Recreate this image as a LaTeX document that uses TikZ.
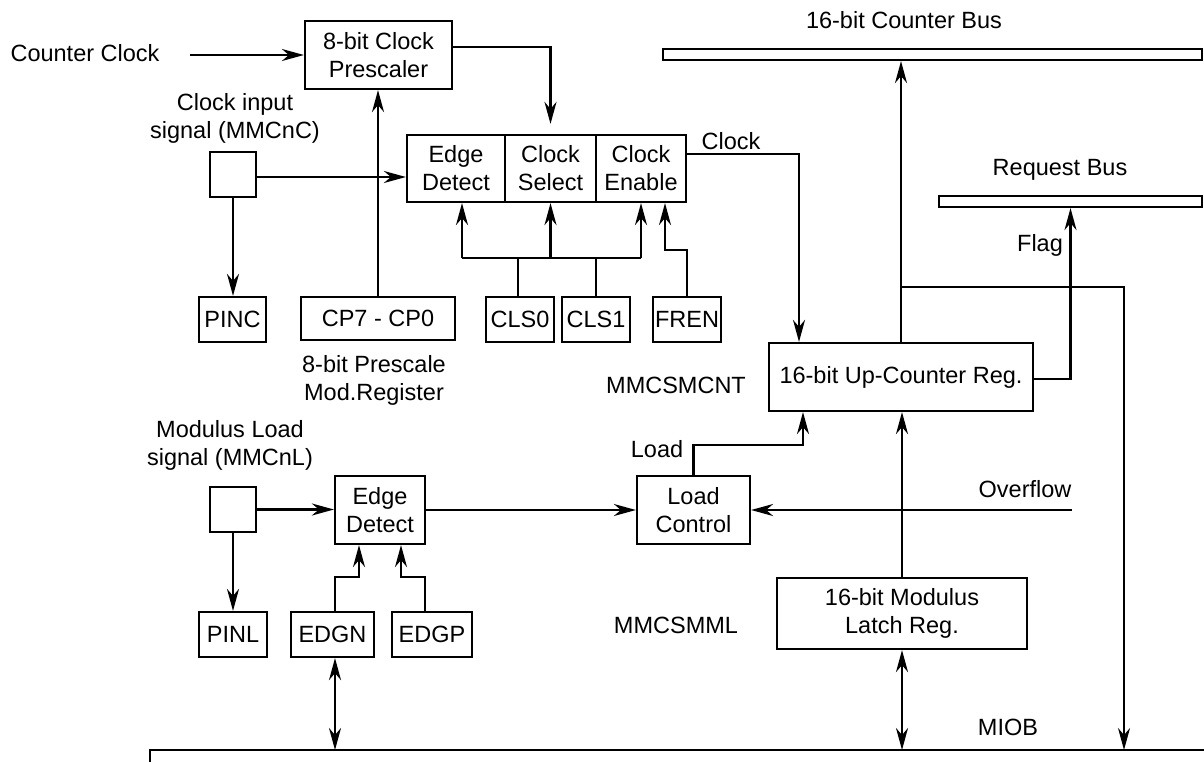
\documentclass[tikz,border=0pt]{standalone}
\usepackage{fontspec}
\setmainfont{Liberation Sans}
\usetikzlibrary{arrows.meta}
\tikzset{
  every node/.style={font=\fontsize{23.5}{28}\selectfont, inner sep=0pt, align=center},
  blk/.style={draw, line width=2.2pt, anchor=center},
  wire/.style={line width=2.2pt},
  arr/.style={wire, -{Stealth[length=22pt,width=12pt,inset=7pt]}},
  darr/.style={wire, {Stealth[length=22pt,width=12pt,inset=7pt]}-{Stealth[length=22pt,width=12pt,inset=7pt]}},
  lbl/.style={anchor=center}
}
\begin{document}
\begin{tikzpicture}[x=1pt,y=-1pt]
\useasboundingbox (0,0) rectangle (1204,761);
% top-left
\node[lbl] (cclab) at (85,53) {Counter Clock};
\coordinate (ccs) at (190,55);
\node[blk, minimum width=147pt, minimum height=68pt] (pre) at (378.5,55) {8-bit Clock\\Prescaler};
\draw[arr] (ccs) -- (ccs -| pre.west);
\node[lbl] (cilab) at (235,118) {Clock input\\signal (MMCnC)};
\node[blk, minimum width=46pt, minimum height=45pt] (sb1) at (233,174.5) {};
\node[blk, minimum width=98pt, minimum height=67pt] (ed) at (456,168.5) {Edge\\Detect};
\node[blk, minimum width=91pt, minimum height=67pt] (cs) at (550.5,168.5) {Clock\\Select};
\node[blk, minimum width=90pt, minimum height=67pt] (ce) at (641,168.5) {Clock\\Enable};
\draw[arr, shorten >=10pt] ([yshift=8pt]pre.east) -| (cs.north);
\draw[arr] ([yshift=-2.5pt]sb1.east) -- ([yshift=-2.5pt]sb1.east -| ed.west);
\node[blk, minimum width=67pt, minimum height=45pt] (pinc) at (232.5,319.5) {PINC};
\draw[arr] (sb1.south) -- (sb1.south |- pinc.north);
\node[blk, minimum width=154pt, minimum height=43pt] (cp) at (378,318.5) {CP7 - CP0};
\draw[arr] (cp.north) -- (cp.north |- pre.south);
\node[lbl] (pslab) at (374,380) {8-bit Prescale\\Mod.Register};
\node[blk, minimum width=68pt, minimum height=45pt] (cls0) at (520,319.5) {CLS0};
\node[blk, minimum width=68pt, minimum height=45pt] (cls1) at (596,319.5) {CLS1};
\node[blk, minimum width=68pt, minimum height=45pt] (fren) at (687,319.5) {FREN};
\coordinate (bl) at (462,258);
\coordinate (brr) at (641,258);
\draw[wire] (bl) -- (brr);
\draw[wire] ([xshift=-2pt]cls0.north) -- ([xshift=-2pt]cls0.north |- bl);
\draw[wire] (cls1.north) -- (cls1.north |- bl);
\draw[arr] (bl) -- (bl |- ed.south);
\draw[arr] (cs.south |- bl) -- (cs.south);
\draw[arr] (brr) -- (brr |- ce.south);
\coordinate (fk) at (665,250);
\draw[arr] (fren.north) |- (fk) -- (fk |- ce.south);
% right top
\node[lbl] (cblab) at (904,20) {16-bit Counter Bus};
\node[blk, minimum width=539pt, minimum height=11pt] (cbus) at (932.5,54.5) {};
\node[lbl] (rblab) at (1060,170) {Request Bus};
\node[blk, minimum width=263pt, minimum height=11pt] (rbus) at (1070.5,201.5) {};
\node[blk, minimum width=264pt, minimum height=68pt] (ucr) at (901,377) {16-bit Up-Counter Reg.};
\node[lbl] (mcnt) at (676,385) {MMCSMCNT};
\coordinate (x799) at (799,0);
\draw[arr] ([yshift=14.5pt]ce.east) -| (ucr.north -| x799);
\node[lbl] (clklab) at (731,141) {Clock};
\draw[arr] (ucr.north) -- (ucr.north |- cbus.south);
\draw[arr] ([yshift=-2pt]ucr.east) -| (rbus.south);
\node[lbl] (flag) at (1040,245) {Flag};
% bottom bus
\coordinate (bb0) at (150,770);
\coordinate (bb1) at (150,750);
\coordinate (bb2) at (1215,750);
\draw[wire] (bb0) -- (bb1) -- (bb2);
\coordinate (brk) at (901,287);
\coordinate (brx) at (1124,287);
\draw[arr] (brk) -- (brx) -- (brx |- bb1);
% lower left
\node[lbl] (mllab) at (230,445) {Modulus Load\\signal (MMCnL)};
\node[blk, minimum width=46pt, minimum height=45pt] (sb2) at (233,509.5) {};
\node[blk, minimum width=90pt, minimum height=68pt] (ed2) at (380,510) {Edge\\Detect};
\node[blk, minimum width=113pt, minimum height=68pt] (lc) at (693.5,510) {Load\\Control};
\draw[arr] (sb2.east) -- (sb2.east -| ed2.west);
\draw[arr] (ed2.east) -- (lc.west);
\coordinate (ov) at (1072,510);
\draw[arr] (ov) -- (lc.east);
\node[lbl] (ovlab) at (1025,489) {Overflow};
\coordinate (ld) at (803,445);
\draw[arr] (lc.north) |- (ld) -- (ld |- ucr.south);
\node[lbl] (ldlab) at (657,449) {Load};
\node[blk, minimum width=250pt, minimum height=71pt] (latch) at (902,613.5) {16-bit Modulus\\Latch Reg.};
\draw[arr] (latch.north) -- (latch.north |- ucr.south);
\node[lbl] (mml) at (676,625) {MMCSMML};
\node[blk, minimum width=68pt, minimum height=45pt] (pinl) at (233,634.5) {PINL};
\node[blk, minimum width=83pt, minimum height=45pt] (edgn) at (332.5,634.5) {EDGN};
\node[blk, minimum width=80pt, minimum height=45pt] (edgp) at (432,634.5) {EDGP};
\draw[arr] (sb2.south) -- (pinl.north);
\coordinate (en) at (359,577);
\coordinate (ep) at (401,577);
\draw[arr] ([xshift=2.5pt]edgn.north) |- (en) -- (en |- ed2.south);
\draw[arr] ([xshift=-7pt]edgp.north) |- (ep) -- (ep |- ed2.south);
\draw[darr] ([xshift=2.5pt]edgn.south) -- ([xshift=2.5pt]edgn.south |- bb1);
\draw[darr] (latch.south) -- (latch.south |- bb1);
\node[lbl] (miob) at (1008,727) {MIOB};
\end{tikzpicture}
\end{document}
